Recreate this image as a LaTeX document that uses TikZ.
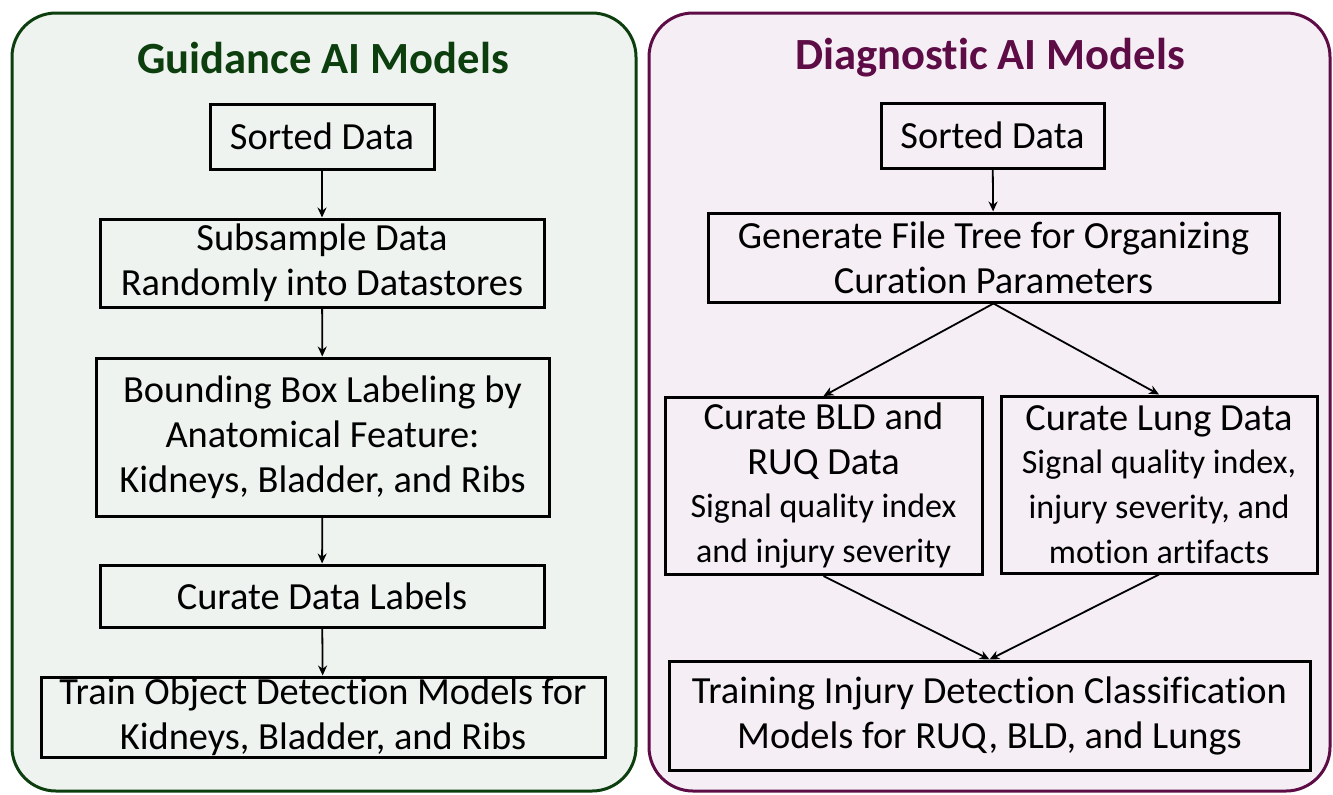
\documentclass[tikz,border=0pt]{standalone}
\usepackage{fontspec}
\setmainfont{Carlito}[Ligatures=NoCommon]
\usepackage{xcolor}
\definecolor{guidegreen}{RGB}{12,62,14}
\definecolor{guidefill}{RGB}{238,243,239}
\definecolor{diagpurple}{RGB}{94,12,70}
\definecolor{diagfill}{RGB}{245,238,245}
\usetikzlibrary{arrows.meta,positioning}

\begin{document}
\begin{tikzpicture}[x=0.5pt,y=-0.5pt]
  \tikzstyle{panel}=[line width=1.5pt,rounded corners=22pt]
  \tikzstyle{flowbox}=[rectangle,draw=black,line width=1.5pt,inner sep=0pt,align=center,font=\fontsize{19.2}{22.5}\selectfont]
  \tikzstyle{paneltitle}=[font=\fontsize{22.3}{26}\bfseries]
  \tikzstyle{flow}=[line width=0.9pt,-{Stealth[length=5pt,width=4.5pt]}]
  \newcommand{\subtxt}[1]{{\fontsize{17}{19}\selectfont #1}}
  \useasboundingbox (0,0) rectangle (1333,794);
  % panels
  \draw[panel,draw=guidegreen,fill=guidefill] (12,13) rectangle (636,791);
  \draw[panel,draw=diagpurple,fill=diagfill] (649,13) rectangle (1330,791);
  \node[paneltitle,text=guidegreen] (gtitle) at (323,58) {Guidance AI Models};
  \node[paneltitle,text=diagpurple] (dtitle) at (990,58) {Diagnostic AI Models};
  % guidance column
  \node[flowbox,minimum width=112pt,minimum height=32.5pt] (lsorted) at (322,136.5) {Sorted Data};
  \node[flowbox,minimum width=222pt,minimum height=44pt] (lsub) at (322,263) {Subsample Data\\Randomly into Datastores};
  \node[flowbox,minimum width=226.5pt,minimum height=79pt] (lbound) at (322.5,437) {Bounding Box Labeling by\\Anatomical Feature:\\Kidneys, Bladder, and Ribs};
  \node[flowbox,minimum width=222pt,minimum height=31pt] (lcurate) at (322,596) {Curate Data Labels};
  \node[flowbox,minimum width=282pt,minimum height=40pt] (ltrain) at (323,717) {Train Object Detection Models for\\Kidneys, Bladder, and Ribs};
  \draw[flow] (lsorted) -- (lsub);
  \draw[flow] (lsub) -- (lbound);
  \draw[flow] (lbound) -- (lcurate);
  \draw[flow] (lcurate) -- (ltrain);
  % diagnostic column
  \node[flowbox,minimum width=111.5pt,minimum height=32.5pt] (rsorted) at (992.5,135.5) {Sorted Data};
  \node[flowbox,minimum width=285.5pt,minimum height=44.5pt] (rtree) at (993.5,257.5) {Generate File Tree for Organizing\\Curation Parameters};
  \node[flowbox,minimum width=158.5pt,minimum height=88.5pt] (rbld) at (823.5,486) {Curate BLD and\\RUQ Data\\[-1pt]\subtxt{Signal quality index}\\\subtxt{and injury severity}};
  \node[flowbox,minimum width=158pt,minimum height=88.5pt] (rlung) at (1159,484.5) {Curate Lung Data\\[-1pt]\subtxt{Signal quality index,}\\\subtxt{injury severity, and}\\\subtxt{motion artifacts}};
  \node[flowbox,minimum width=320.5pt,minimum height=54.5pt] (rtrain) at (989.5,715.5) {Training Injury Detection Classification\\Models for RUQ, BLD, and Lungs};
  \draw[flow] (rsorted) -- (rtree);
  \draw[flow] (rtree.south) -- (rbld.north);
  \draw[flow] (rtree.south) -- (rlung.north);
  \draw[flow] (rbld.south) -- (rtrain.north);
  \draw[flow] (rlung.south) -- (rtrain.north);
\end{tikzpicture}
\end{document}
